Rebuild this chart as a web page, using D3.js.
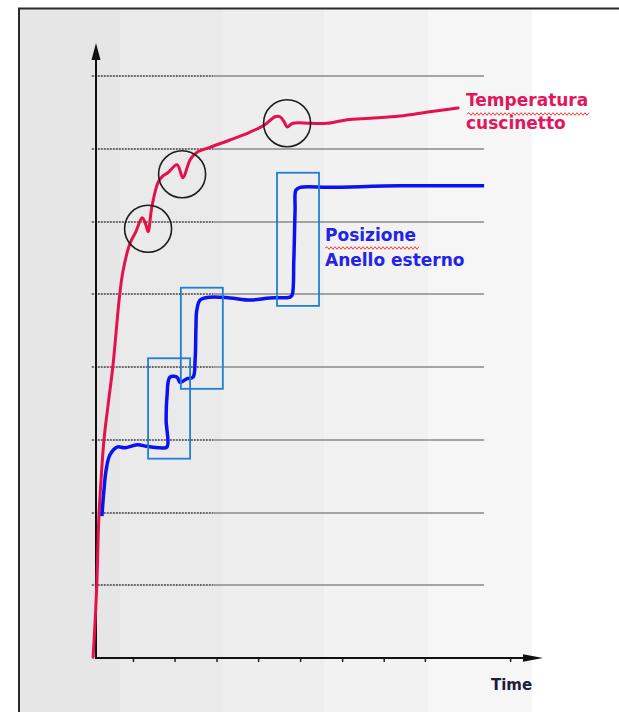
<!DOCTYPE html>
<html><head><meta charset="utf-8">
<script src="https://cdn.jsdelivr.net/npm/d3@7"></script>
<style>html,body{margin:0;padding:0;background:#fff;} svg{display:block}</style>
</head><body><svg id="c" width="619" height="712"></svg>
<script>
// ---- data (time units 0..100, value units 0..80) ----
const tempTime  = [-0.7,-0.2,0.2,0.5,0.7,1.2,1.9,2.9,4.0,4.8,5.5,6.4,8.1,9.5,11.0,11.9,12.4,13.3,14.8,16.0,17.1,19.3,20.7,21.7,22.4,24.0,27.1,31.9,36.7,40.2,42.6,43.8,44.8,45.5,46.9,51.0,55.0,59.8,65.2,72.4,79.5,86.2];
const tempValue = [0.1,5.2,10.2,16.2,19.5,24.5,30.0,34.9,40.0,44.9,49.2,53.1,57.0,58.6,60.5,59.5,58.6,62.0,65.4,66.3,66.7,67.8,66.0,67.4,68.5,69.5,70.2,71.2,72.3,73.3,74.4,74.4,73.7,73.0,73.5,73.5,73.5,74.0,74.2,74.5,75.1,75.6];
const posTime   = [1.4,1.9,2.4,3.3,5.0,6.9,9.8,12.1,15.2,16.9,16.7,16.9,17.6,19.3,20.0,21.7,23.1,23.6,23.8,24.0,24.8,27.1,31.9,36.7,41.4,46.2,46.7,47.1,47.4,47.6,48.6,55.7,72.4,92.4];
const posValue  = [19.5,23.1,25.8,27.9,29.0,28.9,29.3,29.1,28.9,29.0,32.7,35.9,38.6,38.6,37.9,38.4,38.6,41.0,45.5,47.8,49.2,49.6,49.5,49.2,49.5,49.6,49.9,54.7,61.6,64.3,64.7,64.7,64.9,64.9];
const gridValues = [10,20,30,40,50,60,70,80];
const xTickValues = [8.8,18.7,28.7,38.6,48.6,58.6,68.5,78.3,98.6];
const circleTime  = [12.4,20.5,45.5];
const circleValue = [59.0,66.5,73.5];
const boxTimeStart  = [12.4,20.2,43.1];
const boxTimeEnd    = [22.4,30.2,53.1];
const boxValueLow   = [27.4,37.0,48.4];
const boxValueHigh  = [41.2,50.9,66.7];
const tempLabel = ["Temperatura","cuscinetto"];
const posLabel  = ["Posizione","Anello esterno"];
const xLabel = "Time";

const svg = d3.select("#c");
const x = d3.scaleLinear().domain([0,100]).range([96,516]);
const y = d3.scaleLinear().domain([0,80]).range([658,76]);

// background frame with vertical shading bands
const bands = [[20,120,"#e6e6e6"],[120,222,"#eaeaea"],[222,324,"#eeeeee"],[324,428,"#f2f2f2"],[428,532,"#f6f6f6"]];
svg.selectAll("rect.band").data(bands).join("rect").attr("class","band")
  .attr("x",d=>d[0]).attr("y",9).attr("width",d=>d[1]-d[0]).attr("height",712-9).attr("fill",d=>d[2]);
svg.append("path").attr("d","M19,712V8.5H619").attr("fill","none").attr("stroke","#2a2a2a").attr("stroke-width",2);

// gridlines
const gSplit = 27.9, gEnd = 92.4;
const grid = svg.append("g");
grid.selectAll("line.gd").data(gridValues).join("line").attr("class","gd")
  .attr("x1",x(-1)).attr("x2",x(gSplit)).attr("y1",d=>Math.round(y(d))).attr("y2",d=>Math.round(y(d)))
  .attr("stroke","#454545").attr("stroke-width",1.6).attr("stroke-dasharray","2,1");
grid.selectAll("line.gs").data(gridValues).join("line").attr("class","gs")
  .attr("x1",x(gSplit)).attr("x2",x(gEnd)).attr("y1",d=>Math.round(y(d))).attr("y2",d=>Math.round(y(d)))
  .attr("stroke","#8a8a8a").attr("stroke-width",1.6);

// axes
const ax = svg.append("g").attr("transform",`translate(0,${y(0)})`)
  .call(d3.axisBottom(x).tickValues(xTickValues).tickSize(4).tickFormat(""));
ax.select(".domain").remove();
ax.selectAll(".tick line").attr("stroke","#222").attr("stroke-width",1.5);
const x0 = x(0), y0 = y(0);
const yTop = y.range()[1]-33, xRight = x.range()[1]+27;
svg.append("line").attr("x1",x0).attr("x2",x0).attr("y1",y0+1).attr("y2",yTop+14).attr("stroke","#111").attr("stroke-width",2);
svg.append("path").attr("d",`M${x0},${yTop}L${x0-4.5},${yTop+17}L${x0+4.5},${yTop+17}Z`).attr("fill","#111");
svg.append("line").attr("x1",x0-1).attr("x2",xRight-16).attr("y1",y0).attr("y2",y0).attr("stroke","#111").attr("stroke-width",2);
svg.append("path").attr("d",`M${xRight},${y0}L${xRight-20},${y0-3.8}L${xRight-20},${y0+3.8}Z`).attr("fill","#111");
svg.append("text").attr("x",491).attr("y",690).text(xLabel)
  .attr("font-family","DejaVu Sans").attr("font-weight","bold").attr("font-size",15).attr("fill","#1c1c3c");

// series
const line = d3.line().x(d=>x(d[0])).y(d=>y(d[1])).curve(d3.curveCatmullRom.alpha(0.5));
svg.append("path").datum(tempTime.map((t,i)=>[t,tempValue[i]])).attr("d",line)
  .attr("fill","none").attr("stroke","#e3124a").attr("stroke-width",3).attr("stroke-linejoin","round").attr("stroke-linecap","round");
svg.append("path").datum(posTime.map((t,i)=>[t,posValue[i]])).attr("d",line)
  .attr("fill","none").attr("stroke","#0a12f2").attr("stroke-width",3.5).attr("stroke-linejoin","round").attr("stroke-linecap","butt");

// annotations
svg.selectAll("circle.mark").data(circleTime).join("circle").attr("class","mark")
  .attr("cx",d=>x(d)).attr("cy",(d,i)=>y(circleValue[i])).attr("r",23.5)
  .attr("fill","none").attr("stroke","#1e1e1e").attr("stroke-width",1.6);
svg.selectAll("rect.box").data(boxTimeStart).join("rect").attr("class","box")
  .attr("x",d=>x(d)).attr("y",(d,i)=>y(boxValueHigh[i]))
  .attr("width",(d,i)=>x(boxTimeEnd[i])-x(d)).attr("height",(d,i)=>y(boxValueLow[i])-y(boxValueHigh[i]))
  .attr("fill","none").attr("stroke","#1f7fd4").attr("stroke-width",1.8);

// labels
function label(lines, x0, y0, dy, color){
  const t = svg.append("text").attr("font-family","DejaVu Sans").attr("font-weight","bold")
    .attr("font-size",17).attr("fill",color);
  lines.forEach((s,i)=>t.append("tspan").attr("x",x0).attr("y",y0+i*dy).text(s));
  return t;
}
label(tempLabel, 466, 106, 23, "#e0175a");
label(posLabel, 325, 241, 25, "#2424e6");
function squiggle(xa, xb, yy){
  let d = `M${xa},${yy}`; let up = true;
  for(let xx = xa+2; xx<=xb; xx+=2){ d += `L${xx},${yy+(up?-1.3:1.3)}`; up=!up; }
  svg.append("path").attr("d",d).attr("fill","none").attr("stroke","#e84040").attr("stroke-width",1);
}
squiggle(467, 589, 114);
squiggle(325, 419, 248);
</script></body></html>
